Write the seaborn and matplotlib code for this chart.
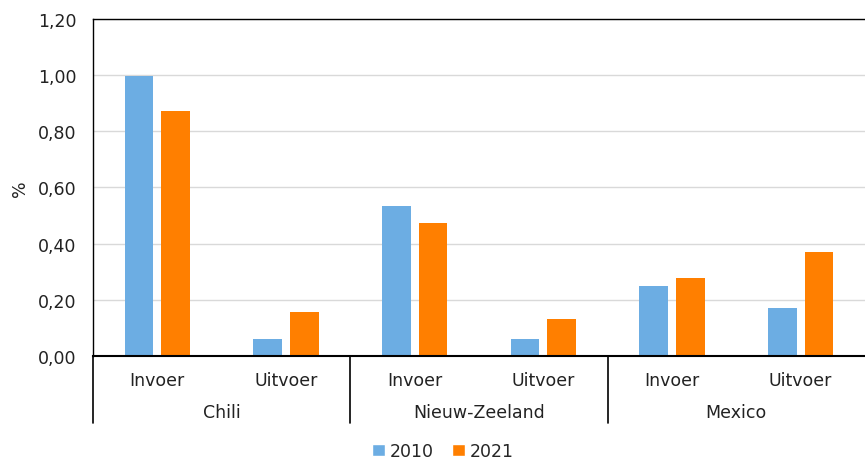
import pandas as pd
import matplotlib.pyplot as plt
import matplotlib.transforms as mtransforms
from matplotlib.patches import Patch
import seaborn as sns

# data
countries = ["Chili", "Nieuw-Zeeland", "Mexico"]
flows = ["Invoer", "Uitvoer"]
years = ["2010", "2021"]
values_2010 = [0.997, 0.060, 0.534, 0.061, 0.248, 0.171]
values_2021 = [0.871, 0.156, 0.474, 0.131, 0.276, 0.369]
colors = ["#6CADE3", "#FF7F00"]

cats = [f"{c}|{f}" for c in countries for f in flows]
df = pd.DataFrame({
    "cat": cats * 2,
    "year": [years[0]] * 6 + [years[1]] * 6,
    "value": values_2010 + values_2021,
})

sns.set_theme(style="white")
plt.rcParams["font.family"] = ["DejaVu Sans"]
fs = 12.5

fig = plt.figure(figsize=(8.65, 4.6), dpi=100)
ax = fig.add_axes([0.1075, 0.224, 0.8925, 0.7325])

sns.barplot(data=df, x="cat", y="value", hue="year", order=cats,
            palette=colors, saturation=1, width=0.572, gap=0.22, ax=ax,
            edgecolor="none", legend=False)

ax.set_xlim(-0.5, 5.5)
ax.set_ylim(0, 1.2)
ax.set_yticks([0, 0.2, 0.4, 0.6, 0.8, 1.0, 1.2])
ax.set_yticklabels([f"{v:.2f}".replace(".", ",") for v in ax.get_yticks()])
ax.yaxis.grid(True, color="#d9d9d9", lw=1)
ax.set_axisbelow(True)
ax.tick_params(axis="both", length=0, labelsize=fs, colors="#222222")
ax.tick_params(axis="y", pad=12)
ax.tick_params(axis="x", pad=11)
ax.set_xticks(range(6))
ax.set_xticklabels(flows * 3)
ax.set_xlabel("")
ax.set_ylabel("%", fontsize=fs, labelpad=6, color="#222222")

for s in ["left", "bottom", "top"]:
    ax.spines[s].set_color("black")
    ax.spines[s].set_linewidth(1.0)
ax.spines["bottom"].set_linewidth(1.5)
ax.spines["right"].set_visible(False)

# two-level category axis
trans = mtransforms.blended_transform_factory(ax.transData, ax.transAxes)
for x in [-0.5, 1.5, 3.5]:
    ax.plot([x, x], [0, -0.2], color="black", lw=1.2, transform=trans, clip_on=False)
for i, c in enumerate(countries):
    ax.text(2 * i + 0.5, -0.165, c, transform=trans, ha="center", va="center",
            fontsize=fs, color="#222222")

handles = [Patch(facecolor=colors[i], label=years[i]) for i in range(2)]
fig.legend(handles=handles, loc="center", bbox_to_anchor=(0.512, 0.017),
           ncol=2, frameon=False, fontsize=fs, handlelength=0.75, handleheight=0.75,
           handletextpad=0.3, columnspacing=1.0)

fig.savefig("out.png", dpi=100)
